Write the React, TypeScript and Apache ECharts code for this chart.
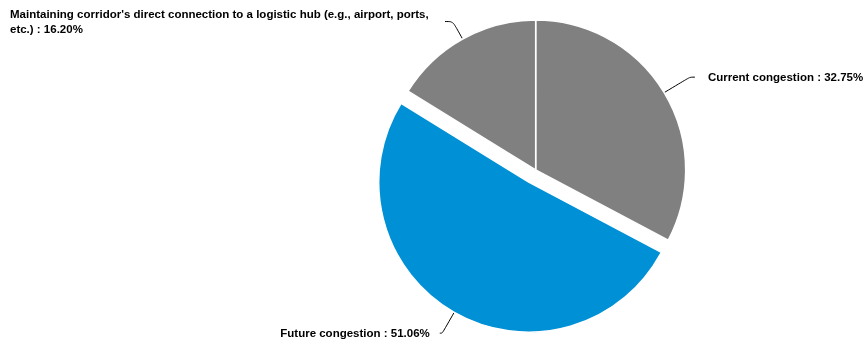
import React, { useEffect, useRef } from "react";
import * as echarts from "echarts";

const categories: string[] = [
  "Current congestion",
  "Future congestion",
  "Maintaining corridor's direct connection to a logistic hub (e.g., airport, ports, etc.)",
];
const values: number[] = [32.75, 51.06, 16.2];
const sliceColors: string[] = ["#808080", "#0090d6", "#808080"];
const selectedIndex = 1;

export default function App() {
  const ref = useRef<HTMLDivElement>(null);
  useEffect(() => {
    if (!ref.current) return;
    const chart = echarts.init(ref.current, undefined, { renderer: "svg" });
    const labelFont = {
      color: "#000",
      fontFamily: "'Liberation Sans', Arial, Helvetica, sans-serif",
      fontWeight: "bold" as const,
      fontSize: 11.5,
      lineHeight: 15,
    };
    const perItem = [
      {
        label: { overflow: "none" },
        labelLine: { length: 30, length2: 5 },
      },
      {
        label: { distanceToLabelLine: 10 },
        labelLine: { length: 24, length2: 2.5 },
      },
      {
        label: {
          alignTo: "edge",
          edgeDistance: 10,
          overflow: "break",
          distanceToLabelLine: 11,
        },
        labelLine: { length: 20, length2: 8 },
      },
    ];
    const data = categories.map((name, i) => ({
      name,
      value: values[i],
      selected: i === selectedIndex,
      itemStyle: { color: sliceColors[i] },
      label: { ...labelFont, ...perItem[i].label },
      labelLine: perItem[i].labelLine,
    }));
    chart.setOption({
      animation: false,
      series: [
        {
          type: "pie",
          left: 0,
          right: 0,
          top: 0,
          bottom: 0,
          center: ["62%", 170],
          radius: 150,
          startAngle: 90,
          clockwise: true,
          selectedMode: "single",
          selectedOffset: 14,
          avoidLabelOverlap: true,
          itemStyle: { borderColor: "#ffffff", borderWidth: 1.5 },
          label: {
            show: true,
            ...labelFont,
            distanceToLabelLine: 13,
            bleedMargin: 0,
            formatter: (p: any) => `${p.name} : ${Number(p.value).toFixed(2)}%`,
          },
          labelLine: {
            show: true,
            smooth: true,
            lineStyle: { color: "#000", width: 1 },
          },
          emphasis: { disabled: true },
          data,
        },
      ],
    });
    return () => chart.dispose();
  }, []);
  return (
    <div
      ref={ref}
      style={{ position: "fixed", left: 0, top: 0, width: 864, height: 341 }}
    />
  );
}
